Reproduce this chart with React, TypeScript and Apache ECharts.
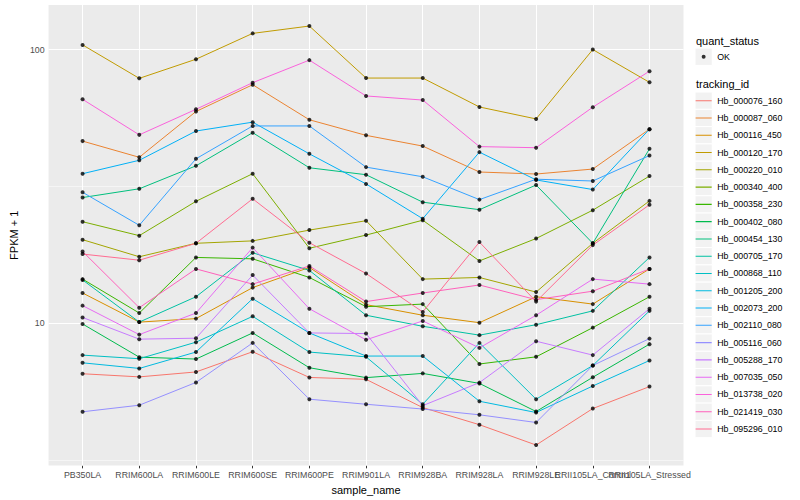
import React, { useEffect, useRef } from "react";
import * as echarts from "echarts";

const categories = [
  "PB350LA",
  "RRIM600LA",
  "RRIM600LE",
  "RRIM600SE",
  "RRIM600PE",
  "RRIM901LA",
  "RRIM928BA",
  "RRIM928LA",
  "RRIM928LE",
  "RRII105LA_Control",
  "RRII105LA_Stressed",
];

const trackingIds = [
  "Hb_000076_160",
  "Hb_000087_060",
  "Hb_000116_450",
  "Hb_000120_170",
  "Hb_000220_010",
  "Hb_000340_400",
  "Hb_000358_230",
  "Hb_000402_080",
  "Hb_000454_130",
  "Hb_000705_170",
  "Hb_000868_110",
  "Hb_001205_200",
  "Hb_002073_200",
  "Hb_002110_080",
  "Hb_005116_060",
  "Hb_005288_170",
  "Hb_007035_050",
  "Hb_013738_020",
  "Hb_021419_030",
  "Hb_095296_010",
];

const colors = [
  "#F8766D", "#EA8331", "#D89000", "#C09B00", "#A3A500",
  "#7CAE00", "#39B600", "#00BB4E", "#00BF7D", "#00C1A3",
  "#00BFC4", "#00BAE0", "#00B0F6", "#35A2FF", "#9590FF",
  "#C77CFF", "#E76BF3", "#FA62DB", "#FF62BC", "#FF6C91",
];

// FPKM + 1 per sample (same order as categories)
const hb000076_160 = [6.54, 6.37, 6.64, 7.87, 6.34, 6.24, 4.92, 4.26, 3.59, 4.88, 5.87];
const hb000087_060 = [46.3, 40.4, 59.4, 74.4, 55.4, 48.6, 44.4, 35.7, 35.1, 36.6, 51.2];
const hb000116_450 = [12.9, 10.1, 10.4, 13.5, 16.0, 11.7, 10.7, 10.05, 12.5, 11.75, 15.8];
const hb000120_170 = [104, 78.5, 92.2, 114.6, 121.9, 78.7, 78.7, 61.7, 55.8, 100, 75.9];
const hb000220_010 = [20.2, 17.5, 19.6, 20.0, 21.9, 23.7, 14.5, 14.7, 13.0, 19.6, 28.0];
const hb000340_400 = [23.5, 20.9, 27.9, 35.2, 18.8, 21.0, 23.8, 16.9, 20.4, 25.9, 34.5];
const hb000358_230 = [14.5, 10.9, 17.4, 17.2, 14.7, 11.5, 11.75, 7.1, 7.54, 9.64, 12.5];
const hb000402_080 = [9.94, 7.52, 7.4, 9.22, 6.88, 6.33, 6.56, 6.03, 4.76, 6.35, 8.39];
const hb000454_130 = [28.8, 31.0, 37.6, 49.7, 37.0, 34.9, 27.7, 26.0, 32.0, 19.6, 43.4];
const hb000705_170 = [14.4, 10.1, 12.5, 18.1, 15.6, 10.7, 9.75, 9.05, 9.88, 11.1, 17.4];
const hb000868_110 = [7.65, 7.42, 8.53, 10.6, 7.85, 7.54, 5.06, 8.48, 5.28, 7.01, 11.1];
const hb001205_200 = [7.17, 6.84, 7.85, 12.3, 9.22, 7.59, 7.59, 5.19, 4.72, 5.9, 7.31];
const hb002073_200 = [35.2, 39.4, 50.4, 54.3, 41.6, 32.3, 24.1, 42.2, 33.4, 30.8, 51.2];
const hb002110_080 = [30.1, 22.8, 39.9, 52.6, 52.6, 37.2, 34.3, 28.3, 33.6, 33.1, 41.0];
const hb005116_060 = [4.75, 5.02, 6.08, 8.48, 5.28, 5.06, 4.86, 4.63, 4.34, 7.01, 8.79];
const hb005288_170 = [10.5, 8.75, 8.82, 15.0, 9.22, 9.17, 5.0, 6.07, 8.6, 7.65, 11.3];
const hb007035_050 = [11.6, 9.09, 10.9, 18.9, 11.3, 8.7, 10.2, 8.13, 10.7, 14.5, 13.9];
const hb013738_020 = [65.8, 48.8, 60.5, 75.7, 91.5, 67.7, 65.4, 44.2, 43.8, 61.6, 83.4];
const hb021419_030 = [18.3, 11.4, 15.8, 13.9, 16.2, 12.0, 12.9, 13.8, 12.2, 13.1, 15.8];
const hb095296_010 = [17.9, 17.0, 19.6, 28.5, 19.7, 15.2, 11.0, 19.8, 12.0, 19.3, 27.1];

const seriesValues = [
  hb000076_160, hb000087_060, hb000116_450, hb000120_170, hb000220_010,
  hb000340_400, hb000358_230, hb000402_080, hb000454_130, hb000705_170,
  hb000868_110, hb001205_200, hb002073_200, hb002110_080, hb005116_060,
  hb005288_170, hb007035_050, hb013738_020, hb021419_030, hb095296_010,
];

const quantStatus = ["OK"];
const yTickValues = [10, 100];
const yMinorValues = [3.1623, 31.623];
const yMin = 3.02;
const yMax = 145.5;

export default function App() {
  const ref = useRef<HTMLDivElement>(null);

  useEffect(() => {
    if (!ref.current) return;
    const chart = echarts.init(ref.current, null, { renderer: "svg" });
    const font = "Liberation Sans, Arial, Helvetica, sans-serif";
    const xIdx = categories.map((_, i) => i);
    const evenIdx = xIdx.filter((i) => i % 2 === 0);
    const oddIdx = xIdx.filter((i) => i % 2 === 1);

    const keySize = 17.28;
    const keyLeft = 695;
    const idTop = 92.06;
    const okTop = 48.1;
    const keyBox = "M0,0h0.01v0.01h-0.01z M17.27,17.27h0.01v0.01h-0.01z";
    const lineIcon = "path://" + keyBox + " M0.6,8.1h16.08v1.07h-16.08z";
    const dotIcon = "path://" + keyBox + " M6.64,8.64a2,2 0 1,0 4,0a2,2 0 1,0 -4,0z";

    const lineSeries: any[] = trackingIds.map((id, s) => {
      const base: any = {
        name: id,
        type: "line",
        xAxisIndex: 0,
        data: seriesValues[s].map((v, i) => [i, v]),
        symbol: "none",
        showSymbol: false,
        lineStyle: { color: colors[s], width: 1 },
        itemStyle: { color: colors[s] },
        z: 2,
        silent: true,
        emphasis: { disabled: true },
        animation: false,
      };
      if (s === 0) {
        base.markLine = {
          silent: true,
          z: 1,
          symbol: ["none", "none"],
          label: { show: false },
          emphasis: { disabled: true },
          animation: false,
          lineStyle: { color: "#FFFFFF", type: "solid", width: 1.07, opacity: 1 },
          data: [
            ...xIdx.map((i) => ({ xAxis: i })),
            ...yTickValues.map((v) => ({ yAxis: v })),
            ...yMinorValues.map((v) => ({ yAxis: v, lineStyle: { width: 0.53, color: "#FFFFFF", type: "solid" } })),
          ],
        };
      }
      return base;
    });

    const pointSeries = {
      name: quantStatus[0],
      type: "scatter",
      xAxisIndex: 0,
      data: seriesValues.flatMap((vals) => vals.map((v, i) => [i, v])),
      symbol: "circle",
      symbolSize: 4,
      itemStyle: { color: "#000000" },
      z: 3,
      silent: true,
      emphasis: { disabled: true },
      animation: false,
    };

    const keyRects: any[] = [
      {
        type: "rect",
        shape: { x: keyLeft, y: okTop, width: keySize, height: keySize },
        style: { fill: "#F2F2F2", stroke: "#FFFFFF", lineWidth: 1 },
        silent: true,
      },
      ...trackingIds.map((_, i) => ({
        type: "rect",
        shape: { x: keyLeft, y: idTop + i * keySize, width: keySize, height: keySize },
        style: { fill: "#F2F2F2", stroke: "#FFFFFF", lineWidth: 1 },
        silent: true,
      })),
    ];

    const xLabelBase = {
      formatter: (v: number) => categories[Math.round(v)] ?? "",
      fontSize: 8.8,
      color: "#4D4D4D",
      margin: 4.5,
      fontFamily: font,
      showMinLabel: true,
      showMaxLabel: true,
      hideOverlap: false,
    };

    const option: any = {
      animation: false,
      backgroundColor: "#FFFFFF",
      textStyle: { fontFamily: font },
      grid: {
        left: 39.5,
        right: 116.5,
        top: 5,
        bottom: 32,
        show: true,
        backgroundColor: "#EBEBEB",
        borderWidth: 0,
        containLabel: false,
      },
      xAxis: [
        {
          type: "value",
          position: "bottom",
          min: -0.6,
          max: 10.6,
          axisLine: { show: false },
          splitLine: { show: false },
          minorSplitLine: { show: false },
          axisTick: {
            show: true,
            customValues: xIdx,
            length: 2.75,
            lineStyle: { color: "#333333", width: 1 },
          },
          axisLabel: { ...xLabelBase, customValues: evenIdx },
          name: "sample_name",
          nameLocation: "middle",
          nameGap: 15,
          nameTextStyle: { fontSize: 11, color: "#000000", fontFamily: font },
        },
        {
          type: "value",
          position: "bottom",
          offset: 0,
          min: -0.6,
          max: 10.6,
          axisLine: { show: false },
          splitLine: { show: false },
          minorSplitLine: { show: false },
          axisTick: { show: false, customValues: oddIdx },
          axisLabel: { ...xLabelBase, customValues: oddIdx },
        },
      ],
      yAxis: {
        type: "log",
        logBase: 10,
        min: yMin,
        max: yMax,
        axisLine: { show: false },
        splitLine: { show: false },
        minorSplitLine: { show: false },
        axisTick: {
          show: true,
          customValues: yTickValues,
          length: 2.75,
          lineStyle: { color: "#333333", width: 1 },
        },
        axisLabel: {
          customValues: yTickValues,
          formatter: (v: number) =>
            yTickValues.some((t) => Math.abs(t - v) < 1e-6 * t) ? String(Math.round(v)) : "",
          fontSize: 8.8,
          color: "#4D4D4D",
          margin: 4,
          fontFamily: font,
        },
        name: "FPKM + 1",
        nameLocation: "middle",
        nameGap: 22,
        nameRotate: 90,
        nameTextStyle: { fontSize: 11, color: "#000000", fontFamily: font },
      },
      legend: [
        {
          orient: "vertical",
          left: keyLeft,
          top: okTop,
          padding: 0,
          itemGap: 0,
          itemWidth: keySize,
          itemHeight: keySize,
          selectedMode: false,
          textStyle: { fontSize: 8.8, color: "#000000", fontFamily: font },
          data: quantStatus.map((q) => ({ name: q, icon: dotIcon, itemStyle: { color: "#000000" } })),
        },
        {
          orient: "vertical",
          left: keyLeft,
          top: idTop,
          padding: 0,
          itemGap: 0,
          itemWidth: keySize,
          itemHeight: keySize,
          selectedMode: false,
          textStyle: { fontSize: 8.8, color: "#000000", fontFamily: font },
          data: trackingIds.map((id, i) => ({ name: id, icon: lineIcon, itemStyle: { color: colors[i] } })),
        },
      ],
      graphic: [
        ...keyRects,
        {
          type: "text",
          x: 696,
          y: 40.7,
          silent: true,
          style: { text: "quant_status", fontSize: 11, fill: "#000000", fontFamily: font, align: "left", verticalAlign: "middle" },
        },
        {
          type: "text",
          x: 696,
          y: 84,
          silent: true,
          style: { text: "tracking_id", fontSize: 11, fill: "#000000", fontFamily: font, align: "left", verticalAlign: "middle" },
        },
      ],
      series: [...lineSeries, pointSeries],
    };

    chart.setOption(option);
    return () => {
      chart.dispose();
    };
  }, []);

  return (
    <div
      ref={ref}
      style={{ position: "fixed", left: 0, top: 0, width: 800, height: 500 }}
    />
  );
}
